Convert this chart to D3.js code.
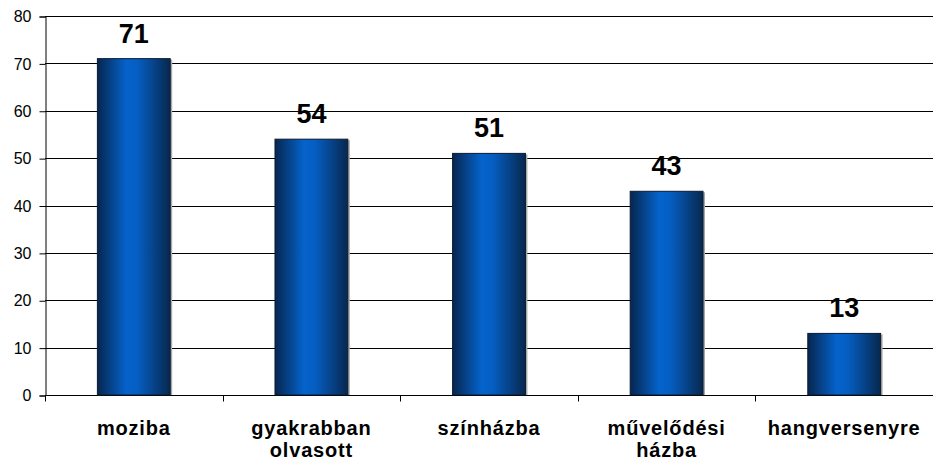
<!DOCTYPE html>
<html>
<head>
<meta charset="utf-8">
<script src="https://cdn.jsdelivr.net/npm/d3@7"></script>
<style>
    body { margin: 0; background: #fff; }
    text { font-family: Arial, "Liberation Sans", sans-serif; }
</style>
</head>
<body>
<script>
//chart data
var categories = ["moziba", "gyakrabban olvasott", "színházba", "művelődési házba", "hangversenyre"];
var labelLines = [["moziba"], ["gyakrabban", "olvasott"], ["színházba"], ["művelődési", "házba"], ["hangversenyre"]];
var values = [71, 54, 51, 43, 13];
var yTicks = [0, 10, 20, 30, 40, 50, 60, 70, 80];

(function(){
    var width = 933, height = 463;
    var plotLeft = 45, plotRight = 933, plotTop = 16, plotBottom = 395;

    var svg = d3.select("body").append("svg")
        .attr("width", width)
        .attr("height", height);

    //bar gradient
    var defs = svg.append("defs");
    var grad = defs.append("linearGradient")
        .attr("id", "barGrad")
        .attr("x1", "0%").attr("x2", "100%")
        .attr("y1", "0%").attr("y2", "0%");
    grad.append("stop").attr("offset", "0%").attr("stop-color", "#06264f");
    grad.append("stop").attr("offset", "40%").attr("stop-color", "#0563cc");
    grad.append("stop").attr("offset", "55%").attr("stop-color", "#055ec2");
    grad.append("stop").attr("offset", "100%").attr("stop-color", "#07284f");

    var x = d3.scaleBand()
        .domain(categories)
        .range([plotLeft, plotRight])
        .paddingInner(0)
        .paddingOuter(0);

    var y = d3.scaleLinear()
        .domain([0, 80])
        .range([plotBottom, plotTop]);

    //gridlines
    svg.append("g").selectAll("line")
        .data(yTicks.filter(function(d){ return d > 0; }))
        .enter().append("line")
        .attr("x1", plotLeft).attr("x2", plotRight)
        .attr("y1", function(d){ return Math.round(y(d)) + 0.5; })
        .attr("y2", function(d){ return Math.round(y(d)) + 0.5; })
        .attr("stroke", "#000")
        .attr("stroke-width", 1);

    //y axis
    var yAxis = d3.axisLeft(y).tickValues(yTicks).tickSize(6).tickPadding(8);
    var ya = svg.append("g")
        .attr("transform", "translate(" + (plotLeft + 0.5) + ",0.5)")
        .call(yAxis);
    ya.selectAll("text").style("font-size", "16px").attr("fill", "#000");
    ya.select(".domain").attr("stroke", "#000");

    //x axis
    var xa = svg.append("g")
        .attr("transform", "translate(0," + (Math.round(y(0)) + 0.5) + ")");
    xa.append("line").attr("x1", plotLeft).attr("x2", plotRight).attr("stroke", "#000");
    xa.selectAll(".tk")
        .data(d3.range(categories.length + 1))
        .enter().append("line")
        .attr("class", "tk")
        .attr("x1", function(i){ return Math.round(plotLeft + i * x.step()) + 0.5; })
        .attr("x2", function(i){ return Math.round(plotLeft + i * x.step()) + 0.5; })
        .attr("y1", 0).attr("y2", 6)
        .attr("stroke", "#000");

    var barW = x.bandwidth() * 0.41;

    //bar shadows
    svg.append("g").selectAll("rect")
        .data(values)
        .enter().append("rect")
        .attr("x", function(d, i){ return x(categories[i]) + (x.bandwidth() - barW) / 2 + 2; })
        .attr("y", function(d){ return y(d) + 1; })
        .attr("width", barW)
        .attr("height", function(d){ return y(0) - y(d) - 1; })
        .attr("fill", "#a8a8a8");

    //bars
    svg.append("g").selectAll("rect")
        .data(values)
        .enter().append("rect")
        .attr("x", function(d, i){ return x(categories[i]) + (x.bandwidth() - barW) / 2; })
        .attr("y", function(d){ return y(d); })
        .attr("width", barW)
        .attr("height", function(d){ return y(0) - y(d); })
        .attr("fill", "url(#barGrad)")
        .attr("stroke", "#0a1a33")
        .attr("stroke-width", 1);

    //value labels
    svg.append("g").selectAll("text")
        .data(values)
        .enter().append("text")
        .attr("x", function(d, i){ return x(categories[i]) + x.bandwidth() / 2; })
        .attr("y", function(d){ return y(d) - 16; })
        .attr("text-anchor", "middle")
        .style("font-size", "27px")
        .style("font-weight", "bold")
        .text(function(d){ return d; });

    //category labels
    var cl = svg.append("g").selectAll("text")
        .data(labelLines)
        .enter().append("text")
        .attr("x", function(d, i){ return x(categories[i]) + x.bandwidth() / 2; })
        .attr("y", 435)
        .attr("text-anchor", "middle")
        .style("font-size", "20px")
        .style("letter-spacing", "0.8px")
        .style("font-weight", "bold");
    cl.selectAll("tspan")
        .data(function(d){ return d; })
        .enter().append("tspan")
        .attr("x", function(){ return d3.select(this.parentNode).attr("x"); })
        .attr("dy", function(d, i){ return i === 0 ? 0 : 22; })
        .text(function(d){ return d; });
})();
</script>
</body>
</html>
